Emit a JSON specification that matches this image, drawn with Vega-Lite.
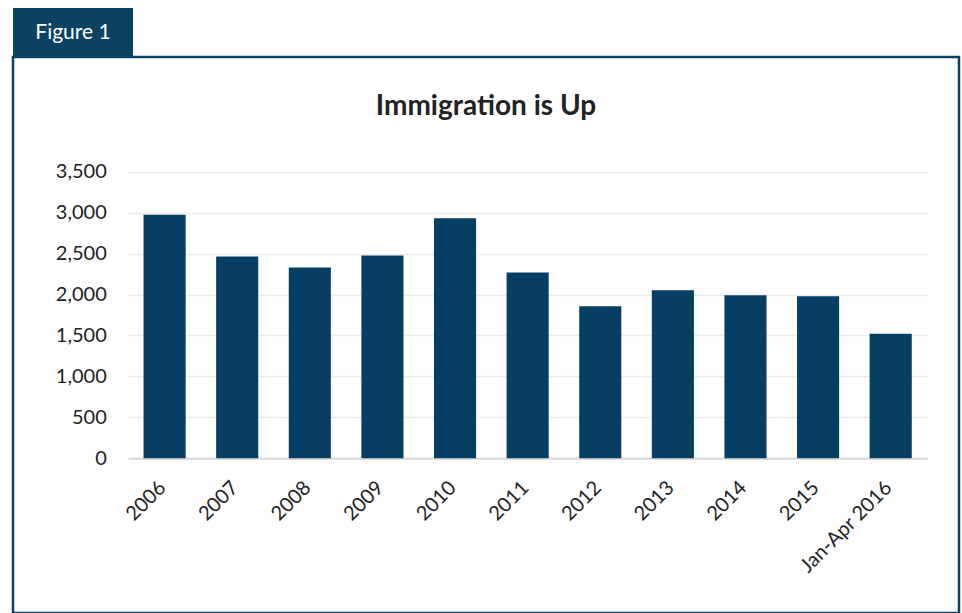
{
  "$schema": "https://vega.github.io/schema/vega-lite/v6.json",
  "background": "white",
  "padding": {"left": 11, "top": 8, "right": 0, "bottom": 0},
  "spacing": 0,
  "bounds": "flush",
  "config": {"font": "Lato", "view": {"stroke": null}},
  "vconcat": [
    {
      "width": 120,
      "height": 49,
      "view": {"fill": "#0b4163", "stroke": null},
      "data": {"values": [{"label": "Figure 1"}]},
      "mark": {"type": "text", "color": "white", "fontSize": 21, "font": "Lato"},
      "encoding": {"text": {"field": "label"}}
    },
    {
      "width": 946,
      "height": 556,
      "view": {"stroke": "#0b4163", "strokeWidth": 2.5},
      "title": {
        "text": "Immigration is Up",
        "fontSize": 28,
        "fontWeight": "bold",
        "color": "#222222",
        "anchor": "middle",
        "frame": "group",
        "baseline": "alphabetic",
        "offset": -86
      },
      "data": {
        "values": [
          {"period": "2006", "value": 2975},
          {"period": "2007", "value": 2463},
          {"period": "2008", "value": 2329},
          {"period": "2009", "value": 2476},
          {"period": "2010", "value": 2930},
          {"period": "2011", "value": 2268},
          {"period": "2012", "value": 1857},
          {"period": "2013", "value": 2052},
          {"period": "2014", "value": 1991},
          {"period": "2015", "value": 1980},
          {"period": "Jan-Apr 2016", "value": 1520}
        ]
      },
      "mark": {"type": "bar", "color": "#063f63"},
      "encoding": {
        "x": {
          "field": "period",
          "type": "nominal",
          "sort": null,
          "scale": {"range": [115.3, 914], "paddingInner": 0.42, "paddingOuter": 0.21, "round": false},
          "axis": {
            "title": null,
            "offset": -154.7,
            "ticks": false,
            "grid": false,
            "domainColor": "#d9d9d9",
            "domainWidth": 2,
            "labelAngle": -45,
            "labelAlign": "right",
            "labelBaseline": "middle",
            "labelPadding": 26,
            "labelOffset": -2,
            "labelFontSize": 20,
            "labelColor": "#222222"
          }
        },
        "y": {
          "field": "value",
          "type": "quantitative",
          "scale": {"domain": [0, 3500], "range": [401.3, 114.7], "nice": false},
          "axis": {
            "title": null,
            "values": [0, 500, 1000, 1500, 2000, 2500, 3000, 3500],
            "format": ",d",
            "offset": -115.3,
            "domain": false,
            "ticks": false,
            "labelPadding": 22,
            "labelFontSize": 20,
            "labelColor": "#222222",
            "grid": true,
            "gridColor": "#ebebeb",
            "gridWidth": 1.5
          }
        }
      }
    }
  ]
}
